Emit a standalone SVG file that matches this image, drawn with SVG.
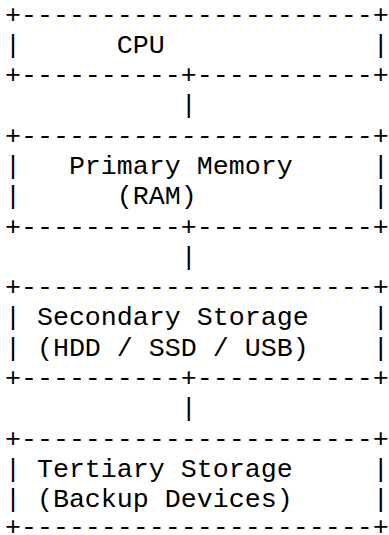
<svg xmlns="http://www.w3.org/2000/svg" width="389" height="535" viewBox="0 0 389 535">
<style>
text { font-family: "Liberation Mono", "Courier New", monospace; font-size: 26.67px; fill: #000; white-space: pre; }
</style>
<rect width="389" height="535" fill="#fff"/>
<g id="cpu">
<text x="4.9" y="22.5" xml:space="preserve">+----------------------+</text>
<text x="4.9" y="52.8" xml:space="preserve">|      CPU             |</text>
<text x="4.9" y="83.1" xml:space="preserve">+----------+-----------+</text>
</g>
<g id="primary-memory">
<text x="4.9" y="143.7" xml:space="preserve">+----------------------+</text>
<text x="4.9" y="173.9" xml:space="preserve">|   Primary Memory     |</text>
<text x="4.9" y="204.2" xml:space="preserve">|      (RAM)           |</text>
<text x="4.9" y="234.5" xml:space="preserve">+----------+-----------+</text>
</g>
<g id="secondary-storage">
<text x="4.9" y="295.1" xml:space="preserve">+----------------------+</text>
<text x="4.9" y="325.4" xml:space="preserve">| Secondary Storage    |</text>
<text x="4.9" y="355.7" xml:space="preserve">| (HDD / SSD / USB)    |</text>
<text x="4.9" y="386.0" xml:space="preserve">+----------+-----------+</text>
</g>
<g id="tertiary-storage">
<text x="4.9" y="446.6" xml:space="preserve">+----------------------+</text>
<text x="4.9" y="476.9" xml:space="preserve">| Tertiary Storage     |</text>
<text x="4.9" y="507.1" xml:space="preserve">| (Backup Devices)     |</text>
<text x="4.9" y="535" xml:space="preserve">+----------------------+</text>
</g>
<g id="connectors">
<text x="4.9" y="113.4" xml:space="preserve">           |</text>
<text x="4.9" y="264.8" xml:space="preserve">           |</text>
<text x="4.9" y="416.3" xml:space="preserve">           |</text>
</g>
</svg>
